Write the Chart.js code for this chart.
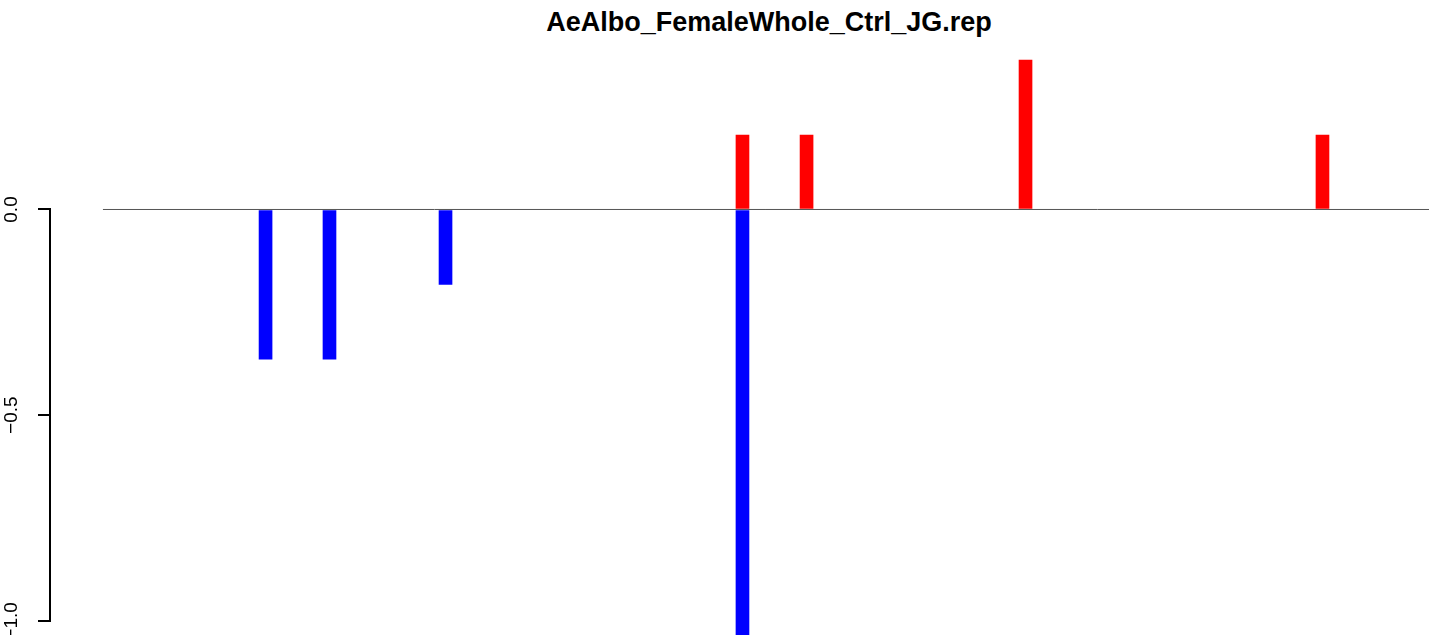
<!DOCTYPE html>
<html>
<head>
<meta charset="utf-8">
<script src="https://cdn.jsdelivr.net/npm/chart.js@4/dist/chart.umd.min.js"></script>
<style>
  html, body { margin: 0; padding: 0; background: #fff; }
  #wrap { position: relative; width: 1429px; height: 635px; overflow: hidden; }
  #title { position: absolute; left: 769px; top: 9px; transform: translateX(-50%);
           font: bold 27px "Liberation Sans", Arial, sans-serif; line-height: 27px;
           white-space: nowrap; color: #000; }
  canvas { position: absolute; left: 0; top: 0; }
</style>
</head>
<body>
<div id="wrap">
  <div id="title">AeAlbo_FemaleWhole_Ctrl_JG.rep</div>
  <canvas id="c" width="1429" height="635"></canvas>
</div>
<script>
// ---- data ----
const chartTitle = "AeAlbo_FemaleWhole_Ctrl_JG.rep";
const downPositions = [15.57, 20.21, 28.63, 50.18];
const downValues    = [-0.364, -0.364, -0.182, -1.09];
const upPositions   = [50.18, 54.83, 70.72, 92.27];
const upValues      = [0.181, 0.181, 0.363, 0.181];
const baselineRange = [3.77, 100];
const yTickValues   = [-1, -0.5, 0];
const yTickLabels   = ["\u22121.0", "\u22120.5", "0.0"];

const downData = downPositions.map((x, i) => ({ x: x, y: downValues[i] }));
const upData   = upPositions.map((x, i) => ({ x: x, y: upValues[i] }));
const baseData = baselineRange.map(x => ({ x: x, y: 0 }));

// R-style axis line: spans only from the first to the last tick
const axisLinePlugin = {
  id: 'axisLine',
  afterDraw(chart) {
    const ys = chart.scales.y;
    const ctx = chart.ctx;
    const x = Math.round(ys.right) - 2;
    const yTop = Math.round(ys.getPixelForValue(yTickValues[yTickValues.length - 1])) - 1;
    const yBot = Math.round(ys.getPixelForValue(yTickValues[0])) + 1;
    ctx.save();
    ctx.fillStyle = '#000000';
    ctx.fillRect(x, yTop, 2, yBot - yTop);
    ctx.restore();
  }
};

new Chart(document.getElementById('c'), {
  type: 'bar',
  data: {
    datasets: [
      { type: 'bar', data: upData, backgroundColor: '#ff0000', borderWidth: 0,
        barThickness: 13, grouped: false, order: 1 },
      { type: 'bar', data: downData, backgroundColor: '#0000ff', borderWidth: 0,
        barThickness: 13, grouped: false, order: 1 },
      { type: 'line', data: baseData, borderColor: '#555555', borderWidth: 1,
        pointRadius: 0, fill: false, order: 0 }
    ]
  },
  options: {
    responsive: false,
    animation: false,
    devicePixelRatio: 1,
    layout: { padding: { top: 40, left: 0, right: 0, bottom: 0 } },
    plugins: { legend: { display: false }, tooltip: { enabled: false }, title: { display: false } },
    scales: {
      x: { type: 'linear', display: false, min: 0, max: 100, offset: false },
      y: {
        type: 'linear',
        min: -1.0343, max: 0.412,
        border: { display: false },
        grid: { drawOnChartArea: false, drawTicks: true, tickLength: 13, color: '#000', lineWidth: 2 },
        ticks: {
          minRotation: 90, maxRotation: 90,
          crossAlign: 'center', padding: 7,
          color: '#000',
          font: { family: '"Liberation Sans", Arial, sans-serif', size: 19 },
          callback: (v, i) => yTickLabels[i]
        },
        afterBuildTicks: (s) => { s.ticks = yTickValues.map(v => ({ value: v })); },
        afterFit: (s) => { s.width = 51; s.paddingTop = 0; s.paddingBottom = 0; }
      }
    }
  },
  plugins: [axisLinePlugin]
});
</script>
</body>
</html>
